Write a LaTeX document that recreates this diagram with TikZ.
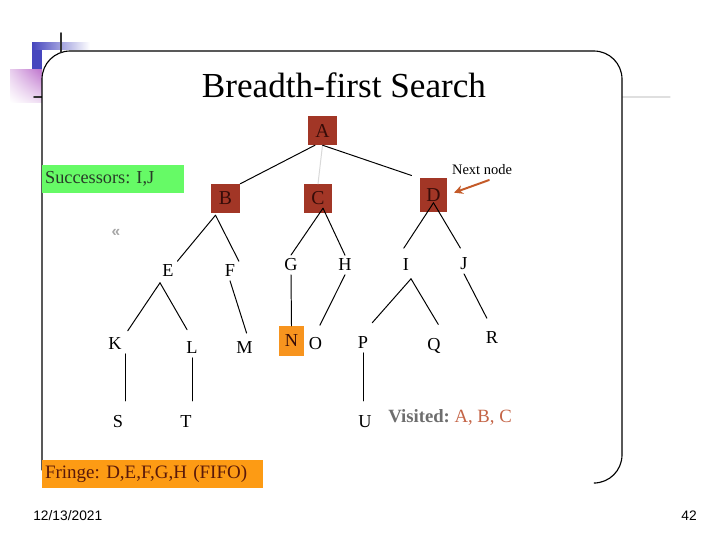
\documentclass[tikz,border=0pt]{standalone}
\usepackage{fontspec}
\setmainfont{Liberation Serif}
\newfontfamily\slidesans{Liberation Sans}
\usetikzlibrary{arrows.meta,shadings}
\definecolor{boxbrown}{RGB}{162,54,38}
\definecolor{boxtext}{RGB}{55,12,8}
\definecolor{norange}{RGB}{247,148,30}
\definecolor{fringeorange}{RGB}{253,155,20}
\definecolor{fringetext}{RGB}{90,25,10}
\definecolor{succgreen}{RGB}{102,250,102}
\definecolor{succtext}{RGB}{40,60,40}
\definecolor{arrowcol}{RGB}{196,90,40}
\definecolor{visgray}{RGB}{110,110,110}
\definecolor{visbrown}{RGB}{196,100,70}
\definecolor{slideblue}{RGB}{70,70,190}
\definecolor{slidepink}{RGB}{190,115,205}
\frenchspacing

\begin{document}
\begin{tikzpicture}[x=0.025cm,y=-0.025cm,>={Stealth[length=2.2mm,width=2.2mm]},line cap=round,
  treebox/.style={fill=boxbrown,text=boxtext,minimum size=20.5pt,inner sep=0pt,font=\fontsize{14}{16}\selectfont},
  leaf/.style={inner sep=2.5pt,font=\fontsize{13}{15}\selectfont},
  edge/.style={black,line width=0.7pt},
  notebox/.style={anchor=north west,align=left,minimum height=19.8pt,inner xsep=2pt,inner ysep=0pt}]
\useasboundingbox (0,0) rectangle (720,540);
% slide decoration
\fill[slideblue] (32,42) rectangle (42,69);
\shade[left color=slideblue,right color=white] (32,42) rectangle (90,49);
\shade[upper right=slidepink,upper left=slidepink!35,lower left=white,lower right=slidepink!25] (10,69) rectangle (42,102);
\draw[gray!25,line width=0.8pt] (42,97) -- (670,97);
\draw[black!80,line width=1.4pt] (34,97) -- (42,97);
% panel
\fill[white,rounded corners=20] (42,51) rectangle (622,483);
\draw[line width=0.8pt,rounded corners=20] (42,470) -- (42,51) -- (622,51) -- (622,483) -- (596,483);
\draw[black!80,line width=1.4pt] (61,33) -- (61,52);
\node[font=\fontsize{25}{30}\selectfont] (title) at (344,85) {Breadth-first Search};

% tree
\node[treebox] (A) at (322.5,130.5) {A};
\node[treebox] (B) at (225.5,198.5) {B};
\node[treebox] (C) at (318,198.5) {C};
\node[treebox,minimum width=19.5pt,minimum height=23.5pt] (D) at (433.5,195) {D};
\node[leaf] (E) at (168,271) {E};
\node[leaf] (F) at (230,271) {F};
\node[leaf] (G) at (291,265) {G};
\node[leaf] (H) at (345,265) {H};
\node[leaf] (I) at (406,265) {I};
\node[leaf] (J) at (464,264) {J};
\node[leaf] (K) at (115,344) {K};
\node[leaf] (L) at (192,348) {L};
\node[leaf] (M) at (244.5,347.5) {M};
\node[leaf,fill=norange,text=boxtext,minimum width=17.7pt,minimum height=21pt,inner sep=0pt] (N) at (291.5,341) {N};
\node[leaf] (O) at (315.5,344) {O};
\node[leaf] (P) at (363,343) {P};
\node[leaf] (Q) at (434,346) {Q};
\node[leaf] (R) at (492,338) {R};
\node[leaf] (S) at (118,422) {S};
\node[leaf] (T) at (186,422) {T};
\node[leaf] (U) at (365,422) {U};

\draw[edge] (A.-117) -- (B.north east);
\draw[edge,gray!30] (A.south) -- (C.north);
\draw[edge,shorten >=6pt] (A.south) -- (D.north west);
\draw[edge] ([shift={(-10,2)}]B.south) -- (E.north east);
\draw[edge] ([shift={(-10,2)}]B.south) -- (F.north east);
\draw[edge] ([shift={(5,-5)}]C.south) -- (G.north);
\draw[edge] ([shift={(5,-5)}]C.south) -- (H.north);
\draw[edge,shorten >=6pt] ([shift={(0,-9)}]D.south) -- (I.north west);
\draw[edge,shorten >=5pt] ([shift={(0,-9)}]D.south) -- (J.north);
\draw[edge,shorten >=3pt] ([shift={(-8,2)}]E.south) -- (K.north east);
\draw[edge,shorten >=7pt] ([shift={(-8,2)}]E.south) -- (L.north);
\draw[edge,shorten >=3.5pt] (F.south) -- (M.70);
\draw[edge] (G.south) -- (N.north);
\draw[edge,shorten >=7pt] (H.south) -- (O.north);
\draw[edge,shorten >=10pt] ([shift={(5,4)}]I.south) -- (P.north);
\draw[edge,shorten >=8.5pt] ([shift={(5,4)}]I.south) -- (Q.north east);
\draw[edge,shorten >=8pt] (J.south) -- (R.north);
\draw[edge,shorten >=8pt] (K.south east) -- (K.south east |- S.north);
\draw[edge,shorten >=8pt] (L.south) -- (L.south |- T.north);
\draw[edge,shorten >=8pt] (P.south) -- (P.south |- U.north);

% notes
\node[font=\fontsize{10.3}{12}\selectfont] (nextlbl) at (482,170) {Next node};
\draw[->,arrowcol,line width=1.4pt,shorten >=5pt] ([shift={(7,0)}]nextlbl.south) -- (D.east);
\node[notebox,fill=succgreen,text=succtext,text width=97pt,font=\fontsize{13}{15}\selectfont] (succ) at (42,165) {Successors: I,J};
\node[notebox,fill=fringeorange,text=fringetext,text width=152.7pt,font=\fontsize{13.5}{15}\selectfont] (fringe) at (42,460) {Fringe: D,E,F,G,H (FIFO)};
\node[anchor=west,inner sep=0pt,font=\fontsize{13.3}{15}\selectfont] (visited) at (388,417) {\textcolor{visgray}{\textbf{Visited:}} \textcolor{visbrown}{A, B, C}};
\node[text=gray!70,font=\slidesans\bfseries\fontsize{11}{12}\selectfont] (back) at (116,233) {«};
\node[anchor=west,inner sep=0pt,font=\slidesans\fontsize{9.8}{11}\selectfont] (date) at (33,516) {12/13/2021};
\node[anchor=east,inner sep=0pt,font=\slidesans\fontsize{9.8}{11}\selectfont] (pagenum) at (697,516) {42};
\end{tikzpicture}
\end{document}
